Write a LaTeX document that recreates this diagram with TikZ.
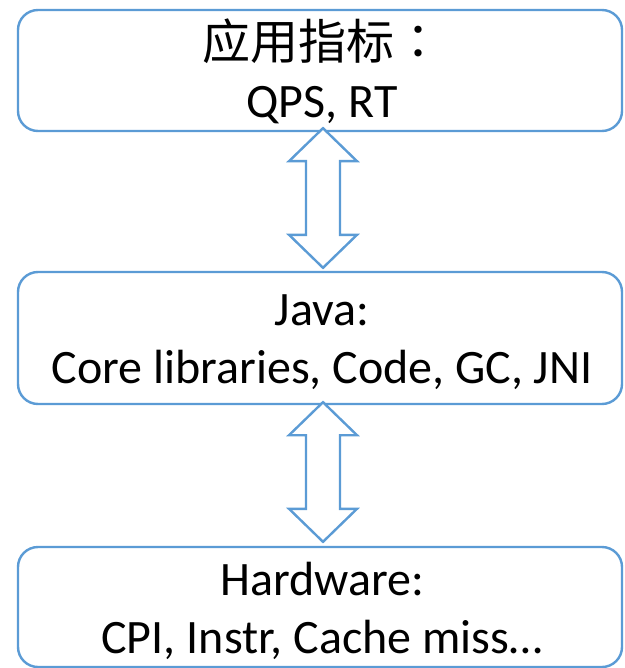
\documentclass[tikz,border=0pt]{standalone}
\usepackage{fontspec}
\setmainfont{Carlito}
\newfontfamily\cjk{Noto Sans CJK SC}
\newfontfamily\cjkpunct{Noto Sans CJK JP}
\usetikzlibrary{calc}
\definecolor{layerblue}{HTML}{5B9BD5}

% hollow two-headed block arrow between two anchors (top tip, bottom tip)
\newcommand\layerarrow[2]{%
  \draw[blockarrow] let \p1=(#1), \p2=(#2) in
    (\x1,\y1) -- (\x1+34pt,\y1-33pt) -- (\x1+17pt,\y1-33pt)
    -- (\x1+17pt,\y2+33pt) -- (\x1+34pt,\y2+33pt) -- (\x1,\y2)
    -- (\x1-34pt,\y2+33pt) -- (\x1-17pt,\y2+33pt)
    -- (\x1-17pt,\y1-33pt) -- (\x1-34pt,\y1-33pt) -- cycle;}

\begin{document}
\begin{tikzpicture}[x=1pt,y=-1pt,
  layer/.style={draw=layerblue, line width=2.4pt, rounded corners=20pt,
    minimum width=604pt, inner sep=0pt},
  layertext/.style={align=center, inner sep=0pt,
    font=\fontsize{48}{58}\selectfont},
  blockarrow/.style={draw=layerblue, line width=2.4pt, fill=white, line join=miter}]
\useasboundingbox (0,0) rectangle (624,668);

% the three layers
\node[layer, minimum height=121pt] (app) at (320,70.5) {};
\node[layer, minimum height=132pt] (java) at (320,338) {};
\node[layer, minimum height=120pt] (hw) at (320,607) {};

% their captions
\node[layertext] (appText) at ([xshift=2pt,yshift=-1pt]app.center)
  {{\cjk 应用指标}{\cjkpunct ：}\\QPS, RT};
\node[layertext] (javaText) at ([xshift=2pt,yshift=-4pt]java.center)
  {Java:\\Core libraries, Code, GC, JNI};
\node[layertext] (hwText) at ([xshift=2pt,yshift=-4pt]hw.center)
  {Hardware:\\CPI, Instr, Cache miss\dots};

% two-way block arrows between neighbouring layers
\coordinate (a1t) at ([xshift=3pt,yshift=4pt]app.south);
\coordinate (a1b) at ([xshift=3pt,yshift=3pt]java.north);
\coordinate (a2t) at ([xshift=3pt,yshift=3pt]java.south);
\coordinate (a2b) at ([xshift=3pt,yshift=4pt]hw.north);
\layerarrow{a1t}{a1b}
\layerarrow{a2t}{a2b}
\end{tikzpicture}
\end{document}
